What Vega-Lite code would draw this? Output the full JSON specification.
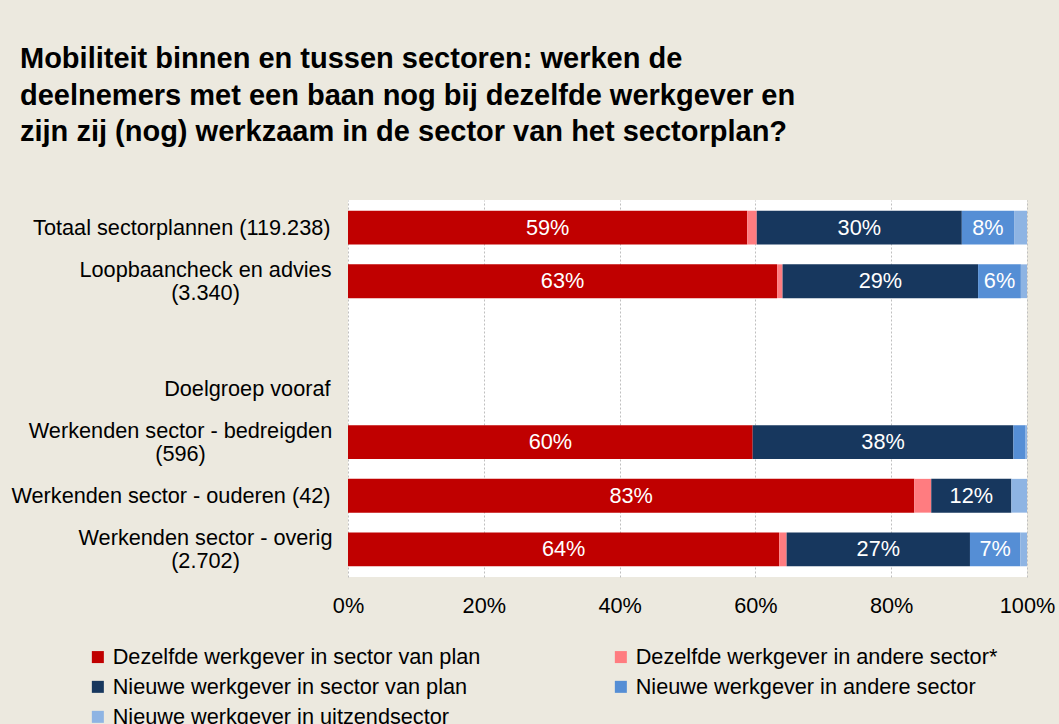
{
  "$schema": "https://vega.github.io/schema/vega-lite/v6.json",
  "width": 679,
  "height": 377,
  "autosize": "none",
  "padding": {"left": 348, "top": 200, "right": 32, "bottom": 147},
  "background": "#ECE9DF",
  "config": {"view": {"fill": "white", "stroke": null}, "font": "Liberation Sans"},
  "title": {
    "text": ["Mobiliteit binnen en tussen sectoren: werken de", "deelnemers met een baan nog bij dezelfde werkgever en", "zijn zij (nog) werkzaam in de sector van het sectorplan?"],
    "anchor": "start",
    "frame": "group",
    "dx": -328,
    "offset": 53,
    "fontSize": 29,
    "fontWeight": "bold",
    "font": "Liberation Sans",
    "color": "black",
    "lineHeight": 36.5
  },
  "data": {
    "values": [
      {"cat": "Totaal sectorplannen (119.238)", "series": "Dezelfde werkgever in sector van plan", "k": 1, "v": 0.588},
      {"cat": "Totaal sectorplannen (119.238)", "series": "Dezelfde werkgever in andere sector*", "k": 2, "v": 0.014},
      {"cat": "Totaal sectorplannen (119.238)", "series": "Nieuwe werkgever in sector van plan", "k": 3, "v": 0.302},
      {"cat": "Totaal sectorplannen (119.238)", "series": "Nieuwe werkgever in andere sector", "k": 4, "v": 0.077},
      {"cat": "Totaal sectorplannen (119.238)", "series": "Nieuwe werkgever in uitzendsector", "k": 5, "v": 0.019},
      {"cat": "Loopbaancheck en advies|(3.340)", "series": "Dezelfde werkgever in sector van plan", "k": 1, "v": 0.632},
      {"cat": "Loopbaancheck en advies|(3.340)", "series": "Dezelfde werkgever in andere sector*", "k": 2, "v": 0.008},
      {"cat": "Loopbaancheck en advies|(3.340)", "series": "Nieuwe werkgever in sector van plan", "k": 3, "v": 0.288},
      {"cat": "Loopbaancheck en advies|(3.340)", "series": "Nieuwe werkgever in andere sector", "k": 4, "v": 0.063},
      {"cat": "Loopbaancheck en advies|(3.340)", "series": "Nieuwe werkgever in uitzendsector", "k": 5, "v": 0.009},
      {"cat": "Werkenden sector - bedreigden|(596)", "series": "Dezelfde werkgever in sector van plan", "k": 1, "v": 0.596},
      {"cat": "Werkenden sector - bedreigden|(596)", "series": "Dezelfde werkgever in andere sector*", "k": 2, "v": 0.0},
      {"cat": "Werkenden sector - bedreigden|(596)", "series": "Nieuwe werkgever in sector van plan", "k": 3, "v": 0.384},
      {"cat": "Werkenden sector - bedreigden|(596)", "series": "Nieuwe werkgever in andere sector", "k": 4, "v": 0.018},
      {"cat": "Werkenden sector - bedreigden|(596)", "series": "Nieuwe werkgever in uitzendsector", "k": 5, "v": 0.002},
      {"cat": "Werkenden sector - ouderen (42)", "series": "Dezelfde werkgever in sector van plan", "k": 1, "v": 0.834},
      {"cat": "Werkenden sector - ouderen (42)", "series": "Dezelfde werkgever in andere sector*", "k": 2, "v": 0.025},
      {"cat": "Werkenden sector - ouderen (42)", "series": "Nieuwe werkgever in sector van plan", "k": 3, "v": 0.118},
      {"cat": "Werkenden sector - ouderen (42)", "series": "Nieuwe werkgever in andere sector", "k": 4, "v": 0.0},
      {"cat": "Werkenden sector - ouderen (42)", "series": "Nieuwe werkgever in uitzendsector", "k": 5, "v": 0.023},
      {"cat": "Werkenden sector - overig|(2.702)", "series": "Dezelfde werkgever in sector van plan", "k": 1, "v": 0.635},
      {"cat": "Werkenden sector - overig|(2.702)", "series": "Dezelfde werkgever in andere sector*", "k": 2, "v": 0.011},
      {"cat": "Werkenden sector - overig|(2.702)", "series": "Nieuwe werkgever in sector van plan", "k": 3, "v": 0.270},
      {"cat": "Werkenden sector - overig|(2.702)", "series": "Nieuwe werkgever in andere sector", "k": 4, "v": 0.074},
      {"cat": "Werkenden sector - overig|(2.702)", "series": "Nieuwe werkgever in uitzendsector", "k": 5, "v": 0.010}
    ]
  },
  "encoding": {
    "y": {
      "field": "cat",
      "type": "nominal",
      "scale": {
        "domain": ["Totaal sectorplannen (119.238)", "Loopbaancheck en advies|(3.340)", " ", "Doelgroep vooraf", "Werkenden sector - bedreigden|(596)", "Werkenden sector - ouderen (42)", "Werkenden sector - overig|(2.702)"],
        "paddingInner": 0.37,
        "paddingOuter": 0.2
      },
      "axis": {
        "title": null,
        "domain": false,
        "ticks": false,
        "labelFontSize": 21.7,
        "labelFont": "Liberation Sans",
        "labelColor": "black",
        "labelLineHeight": 23,
        "labelLimit": 400,
        "labelExpr": "split(datum.value, '|')",
        "labelAlign": {"condition": {"test": "indexof(datum.value, '|') >= 0", "value": "center"}, "value": "right"},
        "labelOffset": {"condition": {"test": "indexof(datum.value, '|') >= 0", "value": -11}, "value": 0},
        "labelPadding": {
          "condition": [
            {"test": "datum.value == 'Loopbaancheck en advies|(3.340)'", "value": 143},
            {"test": "datum.value == 'Werkenden sector - bedreigden|(596)'", "value": 168},
            {"test": "datum.value == 'Werkenden sector - overig|(2.702)'", "value": 143}
          ],
          "value": 18
        }
      }
    },
    "x": {
      "field": "v",
      "type": "quantitative",
      "stack": "zero",
      "scale": {"domain": [0, 1], "nice": false},
      "axis": {
        "title": null,
        "format": ".0%",
        "values": [0, 0.2, 0.4, 0.6, 0.8, 1],
        "domain": false,
        "ticks": false,
        "labelFlush": false,
        "labelFontSize": 21.7,
        "labelFont": "Liberation Sans",
        "labelColor": "black",
        "labelPadding": 18,
        "grid": true,
        "gridColor": "#BFBFBF",
        "gridDash": [2, 2],
        "gridWidth": 1
      }
    },
    "order": {"field": "k", "type": "quantitative"}
  },
  "layer": [
    {
      "mark": {"type": "bar"},
      "encoding": {
        "color": {
          "field": "series",
          "type": "nominal",
          "scale": {
            "domain": ["Dezelfde werkgever in sector van plan", "Dezelfde werkgever in andere sector*", "Nieuwe werkgever in sector van plan", "Nieuwe werkgever in andere sector", "Nieuwe werkgever in uitzendsector"],
            "range": ["#C00000", "#FF7C80", "#17375E", "#558ED5", "#8EB4E3"]
          },
          "legend": {
            "orient": "none",
            "legendX": -261,
            "legendY": 446,
            "direction": "horizontal",
            "columns": 2,
            "title": null,
            "symbolType": "square",
            "symbolSize": 144,
            "symbolStrokeWidth": 0,
            "labelFontSize": 21.7,
            "labelFont": "Liberation Sans",
            "labelColor": "black",
            "columnPadding": 129,
            "rowPadding": 7,
            "labelOffset": 4,
            "labelLimit": 500
          }
        }
      }
    },
    {
      "mark": {"type": "text", "color": "white", "fontSize": 21.7, "font": "Liberation Sans", "align": "center", "baseline": "middle"},
      "encoding": {
        "x": {
          "field": "v",
          "type": "quantitative",
          "stack": "zero",
          "bandPosition": 0.5,
          "scale": {"domain": [0, 1], "nice": false},
          "axis": {
            "title": null,
            "format": ".0%",
            "values": [0, 0.2, 0.4, 0.6, 0.8, 1],
            "domain": false,
            "ticks": false,
            "labelFlush": false,
            "labelFontSize": 21.7,
            "labelFont": "Liberation Sans",
            "labelColor": "black",
            "labelPadding": 18,
            "grid": true,
            "gridColor": "#BFBFBF",
            "gridDash": [2, 2],
            "gridWidth": 1
          }
        },
        "detail": {"field": "series", "type": "nominal"},
        "text": {"condition": {"test": "datum.v < 0.05", "value": ""}, "field": "v", "type": "quantitative", "format": ".0%"}
      }
    }
  ]
}
